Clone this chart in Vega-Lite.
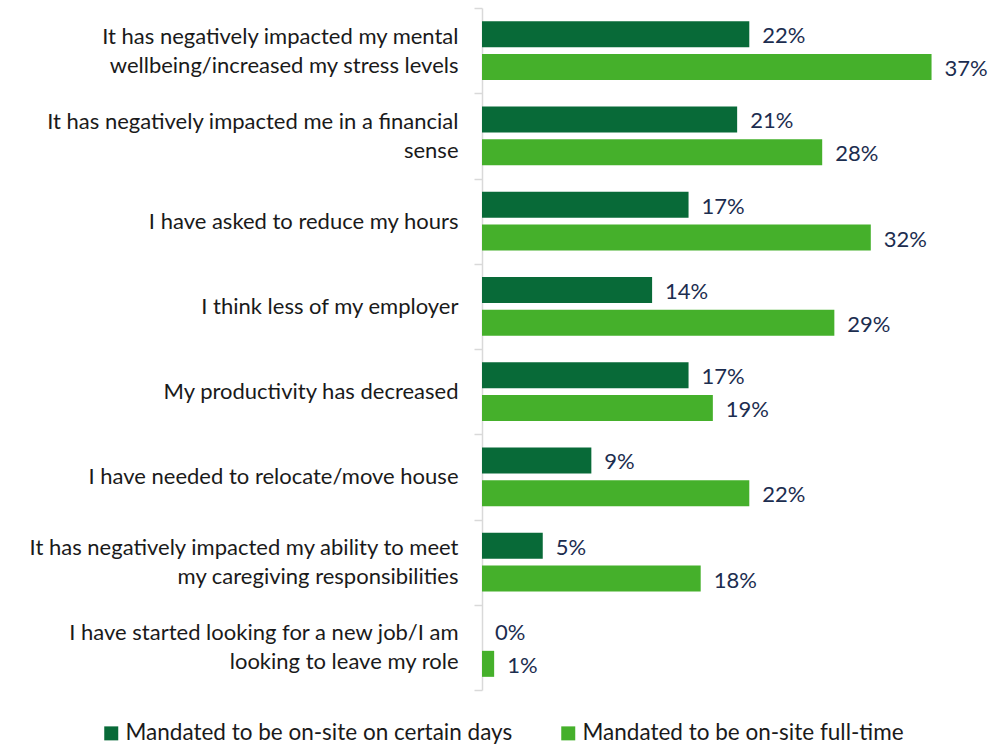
{
  "$schema": "https://vega.github.io/schema/vega-lite/v6.json",
  "width": 486,
  "height": 682,
  "autosize": {"type": "none"},
  "padding": {"left": 482, "top": 8, "right": 31, "bottom": 55},
  "background": "#ffffff",
  "config": {"view": {"stroke": null}, "font": "Lato"},
  "data": {
    "values": [
      {"cat": "It has negatively impacted my mental|wellbeing/increased my stress levels", "group": "Mandated to be on-site on certain days", "value": 0.22},
      {"cat": "It has negatively impacted my mental|wellbeing/increased my stress levels", "group": "Mandated to be on-site full-time", "value": 0.37},
      {"cat": "It has negatively impacted me in a financial|sense", "group": "Mandated to be on-site on certain days", "value": 0.21},
      {"cat": "It has negatively impacted me in a financial|sense", "group": "Mandated to be on-site full-time", "value": 0.28},
      {"cat": "I have asked to reduce my hours", "group": "Mandated to be on-site on certain days", "value": 0.17},
      {"cat": "I have asked to reduce my hours", "group": "Mandated to be on-site full-time", "value": 0.32},
      {"cat": "I think less of my employer", "group": "Mandated to be on-site on certain days", "value": 0.14},
      {"cat": "I think less of my employer", "group": "Mandated to be on-site full-time", "value": 0.29},
      {"cat": "My productivity has decreased", "group": "Mandated to be on-site on certain days", "value": 0.17},
      {"cat": "My productivity has decreased", "group": "Mandated to be on-site full-time", "value": 0.19},
      {"cat": "I have needed to relocate/move house", "group": "Mandated to be on-site on certain days", "value": 0.09},
      {"cat": "I have needed to relocate/move house", "group": "Mandated to be on-site full-time", "value": 0.22},
      {"cat": "It has negatively impacted my ability to meet|my caregiving responsibilities", "group": "Mandated to be on-site on certain days", "value": 0.05},
      {"cat": "It has negatively impacted my ability to meet|my caregiving responsibilities", "group": "Mandated to be on-site full-time", "value": 0.18},
      {"cat": "I have started looking for a new job/I am|looking to leave my role", "group": "Mandated to be on-site on certain days", "value": 0.0},
      {"cat": "I have started looking for a new job/I am|looking to leave my role", "group": "Mandated to be on-site full-time", "value": 0.01}
    ]
  },
  "encoding": {
    "y": {
      "field": "cat",
      "type": "nominal",
      "sort": null,
      "title": null,
      "scale": {"paddingInner": 0, "paddingOuter": 0},
      "axis": {
        "labelExpr": "split(datum.label, '|')",
        "labelFontSize": 22,
        "labelColor": "#1a1a1a",
        "labelLineHeight": 29,
        "labelPadding": 16,
        "labelLimit": 600,
        "labelOffset": {"condition": {"test": "indexof('' + datum.value, '|') >= 0", "value": -14.5}, "value": 0},
        "tickBand": "extent",
        "tickSize": 8,
        "tickColor": "#d9d9d9",
        "tickWidth": 1.5,
        "domainColor": "#d9d9d9",
        "domainWidth": 1.5,
        "grid": false
      }
    },
    "yOffset": {
      "field": "group",
      "type": "nominal",
      "sort": ["Mandated to be on-site on certain days", "Mandated to be on-site full-time"],
      "scale": {"paddingInner": 0.21, "paddingOuter": 0.4}
    },
    "x": {
      "field": "value",
      "type": "quantitative",
      "scale": {"domain": [0, 0.4], "nice": false},
      "axis": null
    }
  },
  "layer": [
    {
      "mark": {"type": "bar"},
      "encoding": {
        "color": {
          "field": "group",
          "type": "nominal",
          "sort": ["Mandated to be on-site on certain days", "Mandated to be on-site full-time"],
          "scale": {"domain": ["Mandated to be on-site on certain days", "Mandated to be on-site full-time"], "range": ["#086a38", "#45b02b"]},
          "legend": {
            "title": null,
            "orient": "none",
            "direction": "horizontal",
            "legendX": -382,
            "legendY": 714,
            "symbolType": "square",
            "symbolSize": 196,
            "symbolStrokeWidth": 0,
            "symbolOpacity": 1,
            "labelFontSize": 22.5,
            "labelColor": "#1a1a1a",
            "labelOffset": 3,
            "labelLimit": 600,
            "columnPadding": 44
          }
        }
      }
    },
    {
      "mark": {"type": "text", "align": "left", "baseline": "middle", "dx": 13, "dy": 2, "fontSize": 22, "color": "#1c2d4f"},
      "encoding": {
        "text": {"field": "value", "type": "quantitative", "format": ".0%"}
      }
    }
  ]
}
